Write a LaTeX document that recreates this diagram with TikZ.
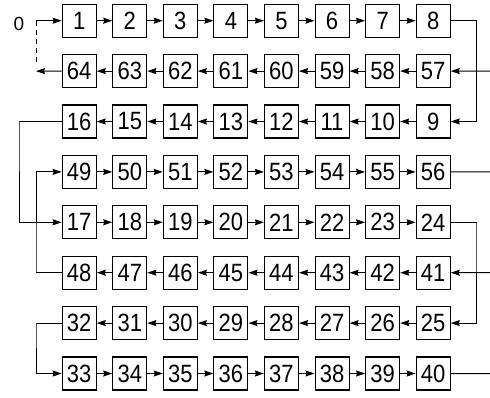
\documentclass[tikz,border=0pt]{standalone}
\usepackage{fontspec}
\setmainfont[FakeStretch=0.88]{Liberation Sans}
\newfontfamily\zerofont{Liberation Sans}
\usetikzlibrary{arrows.meta}
\tikzset{
  cell/.style={draw, line width=1.1pt, minimum width=34pt, minimum height=33pt, inner sep=0pt,
    font=\fontsize{25}{25}\selectfont},
  link/.style={line width=1pt},
  arr/.style={link, -{Stealth[length=9pt,width=6pt,inset=1pt]}},
}
\begin{document}
\begin{tikzpicture}[x=1pt,y=-1pt]
\useasboundingbox (0,0) rectangle (490,397);
\foreach \row/\labels in {0/{1,2,3,4,5,6,7,8}, 1/{64,63,62,61,60,59,58,57}, 2/{16,15,14,13,12,11,10,9},
  3/{49,50,51,52,53,54,55,56}, 4/{17,18,19,20,21,22,23,24}, 5/{48,47,46,45,44,43,42,41},
  6/{32,31,30,29,28,27,26,25}, 7/{33,34,35,36,37,38,39,40}}{
  \foreach \lab [count=\i from 0] in \labels {
    \node[cell] (n\lab) at ({79.2+50.57*\i},{20.7+50.4*\row}) {\lab};
  }
}
\foreach \a/\b in {1/2,2/3,3/4,4/5,5/6,6/7,7/8,
  49/50,50/51,51/52,52/53,53/54,54/55,55/56,
  17/18,18/19,19/20,20/21,21/22,22/23,23/24,
  33/34,34/35,35/36,36/37,37/38,38/39,39/40,
  57/58,58/59,59/60,60/61,61/62,62/63,63/64,
  9/10,10/11,11/12,12/13,13/14,14/15,15/16,
  41/42,42/43,43/44,44/45,45/46,46/47,47/48,
  25/26,26/27,27/28,28/29,29/30,30/31,31/32}{
  \draw[arr] (n\a) -- (n\b);
}
\node[font=\zerofont\fontsize{19}{19}\selectfont] (zero) at (19,24) {0};
\coordinate (s0) at (36,20.7);
\coordinate (d0) at (36,64);
\coordinate (e64) at (36,71.1);
\draw[arr] (s0) -- (n1);
\draw[link, dash pattern=on 5pt off 4pt] (s0) -- (d0);
\draw[arr] (n64) -- (e64);
\coordinate (rx1) at (476,20.7);
\coordinate (rx5) at (476,222.3);
\coordinate (in57) at (490,71.1);
\coordinate (in41) at (490,272.7);
\coordinate (out56) at (490,171.9);
\coordinate (out40) at (490,373.5);
\draw[arr] (n8.east) -| (rx1) |- (n9.east);
\draw[arr] (n24.east) -| (rx5) |- (n25.east);
\draw[arr] (in57) -- (n57);
\draw[arr] (in41) -- (n41);
\draw[link] (n56) -- (out56);
\draw[link] (n40) -- (out40);
\coordinate (lx1) at (19,121.5);
\coordinate (lx2) at (36,272.7);
\coordinate (lx3) at (36,323.1);
\draw[arr] (n16.west) -| (lx1) |- (n17.west);
\draw[arr] (n48.west) -| (lx2) |- (n49.west);
\draw[arr] (n32.west) -| (lx3) |- (n33.west);
\end{tikzpicture}
\end{document}
